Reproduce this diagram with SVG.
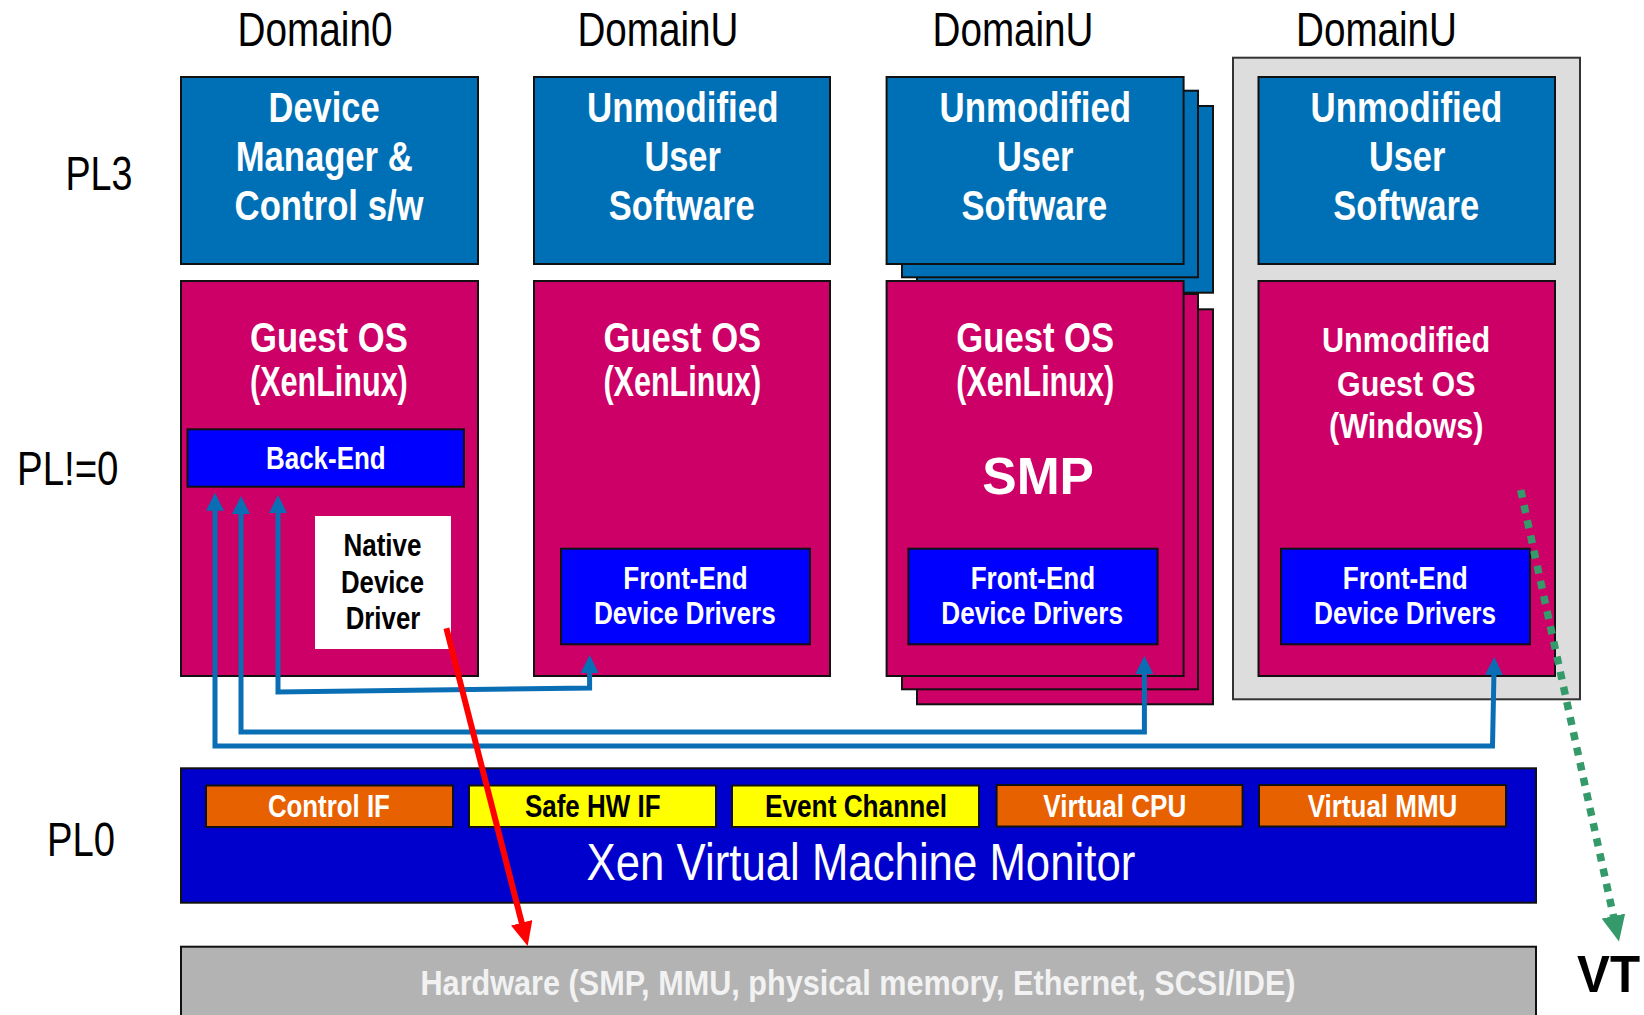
<svg xmlns="http://www.w3.org/2000/svg" width="1644" height="1015" viewBox="0 0 1644 1015">
<style>
text { font-family: "Liberation Sans", Arial, sans-serif; }
.lbl { font-size: 48px; fill: #000; }
.vt { font-size: 51px; font-weight: bold; fill: #000; }
.t42 { font-size: 42px; font-weight: bold; fill: #fff; }
.t35 { font-size: 35px; font-weight: bold; fill: #fff; }
.t32 { font-size: 32px; font-weight: bold; fill: #fff; }
.t32k { font-size: 32px; font-weight: bold; fill: #000; }
.t31 { font-size: 31px; font-weight: bold; fill: #fff; }
.t31k { font-size: 31px; font-weight: bold; fill: #000; }
.smp { font-size: 52px; font-weight: bold; fill: #fff; }
.xen { font-size: 52px; fill: #fff; }
.hw { font-size: 35px; font-weight: bold; fill: #f2f2f2; }
.bx { stroke: #111; stroke-width: 2; }
.app { fill: #0070B6; }
.os { fill: #CC0066; }
.fe { fill: #0000FF; }
.org { fill: #E86100; }
.yel { fill: #FFFF00; }
.bl { fill: none; stroke: #0A6EB4; stroke-width: 5; }
</style>
<defs>
<marker id="ab" markerUnits="userSpaceOnUse" markerWidth="18" markerHeight="18" viewBox="0 0 18 18" refX="4" refY="9" orient="auto-start-reverse">
<path d="M0,0 L18,9 L0,18 z" fill="#0A6EB4"/>
</marker>
<marker id="ar" markerUnits="userSpaceOnUse" markerWidth="24" markerHeight="22" viewBox="0 0 24 22" refX="4" refY="11" orient="auto">
<path d="M0,0 L24,11 L0,22 z" fill="#FF0000"/>
</marker>
<marker id="ag" markerUnits="userSpaceOnUse" markerWidth="26" markerHeight="24" viewBox="0 0 26 24" refX="4" refY="12" orient="auto">
<path d="M0,0 L26,12 L0,24 z" fill="#359A6A"/>
</marker>
</defs>

<g id="labels">
<text class="lbl" x="237.5" y="46" textLength="155" lengthAdjust="spacingAndGlyphs">Domain0</text>
<text class="lbl" x="577.4" y="46" textLength="161" lengthAdjust="spacingAndGlyphs">DomainU</text>
<text class="lbl" x="932.5" y="46" textLength="161" lengthAdjust="spacingAndGlyphs">DomainU</text>
<text class="lbl" x="1296" y="46" textLength="161" lengthAdjust="spacingAndGlyphs">DomainU</text>
<text class="lbl" x="65.4" y="190" textLength="67" lengthAdjust="spacingAndGlyphs">PL3</text>
<text class="lbl" x="17" y="485" textLength="101.5" lengthAdjust="spacingAndGlyphs">PL!=0</text>
<text class="lbl" x="47" y="856" textLength="68" lengthAdjust="spacingAndGlyphs">PL0</text>
<text class="vt" x="1577" y="992" textLength="63" lengthAdjust="spacingAndGlyphs">VT</text>
</g>

<g id="domu4-container">
<rect x="1233" y="57.7" width="347" height="641.6" fill="#DDDDDD" stroke="#333" stroke-width="2"/>
</g>

<g id="dom0-app">
<rect class="bx app" x="181" y="77" width="297" height="187"/>
<text class="t42" x="268.6" y="122" textLength="111" lengthAdjust="spacingAndGlyphs">Device</text>
<text class="t42" x="235.7" y="171" textLength="177" lengthAdjust="spacingAndGlyphs">Manager &amp;</text>
<text class="t42" x="234.6" y="220" textLength="189" lengthAdjust="spacingAndGlyphs">Control s/w</text>
</g>

<g id="domu1-app">
<rect class="bx app" x="534" y="77" width="296" height="187"/>
<text class="t42" x="587" y="122" textLength="191.4" lengthAdjust="spacingAndGlyphs">Unmodified</text>
<text class="t42" x="644.4" y="171" textLength="76.5" lengthAdjust="spacingAndGlyphs">User</text>
<text class="t42" x="608.8" y="220" textLength="145.8" lengthAdjust="spacingAndGlyphs">Software</text>
</g>

<g id="domu2-app">
<rect class="bx app" x="917" y="106" width="296" height="186.7"/>
<rect class="bx app" x="902" y="90.7" width="296" height="186.6"/>
<rect class="bx app" x="886.6" y="77" width="297" height="187"/>
<text class="t42" x="939.6" y="122" textLength="191.4" lengthAdjust="spacingAndGlyphs">Unmodified</text>
<text class="t42" x="997" y="171" textLength="76.5" lengthAdjust="spacingAndGlyphs">User</text>
<text class="t42" x="961.4" y="220" textLength="145.8" lengthAdjust="spacingAndGlyphs">Software</text>
</g>

<g id="domu3-app">
<rect class="bx app" x="1258.5" y="77" width="296.5" height="187"/>
<text class="t42" x="1310.6" y="122" textLength="191.8" lengthAdjust="spacingAndGlyphs">Unmodified</text>
<text class="t42" x="1368.9" y="171" textLength="76.5" lengthAdjust="spacingAndGlyphs">User</text>
<text class="t42" x="1333.3" y="220" textLength="145.8" lengthAdjust="spacingAndGlyphs">Software</text>
</g>

<g id="dom0-os">
<rect class="bx os" x="181" y="281" width="297" height="395"/>
<text class="t42" x="250" y="351.7" textLength="157.8" lengthAdjust="spacingAndGlyphs">Guest OS</text>
<text class="t42" x="250" y="396" textLength="157.8" lengthAdjust="spacingAndGlyphs">(XenLinux)</text>
</g>

<g id="dom0-backend">
<rect class="bx fe" x="187.5" y="429.3" width="276.5" height="57.4"/>
<text class="t32" x="266" y="469" textLength="119.6" lengthAdjust="spacingAndGlyphs">Back-End</text>
</g>

<g id="dom0-native">
<rect x="315" y="516" width="136" height="133" fill="#FFFFFF"/>
<text class="t32k" x="343.5" y="556" textLength="78" lengthAdjust="spacingAndGlyphs">Native</text>
<text class="t32k" x="341" y="592.7" textLength="83" lengthAdjust="spacingAndGlyphs">Device</text>
<text class="t32k" x="345.7" y="629" textLength="74.6" lengthAdjust="spacingAndGlyphs">Driver</text>
</g>

<g id="domu1-os">
<rect class="bx os" x="534" y="281" width="296" height="395"/>
<text class="t42" x="603.4" y="351.7" textLength="157.8" lengthAdjust="spacingAndGlyphs">Guest OS</text>
<text class="t42" x="603.4" y="396" textLength="157.8" lengthAdjust="spacingAndGlyphs">(XenLinux)</text>
</g>

<g id="domu1-frontend">
<rect class="bx fe" x="561" y="548.7" width="249" height="95.6"/>
<text class="t31" x="623.3" y="589" textLength="124.4" lengthAdjust="spacingAndGlyphs">Front-End</text>
<text class="t31" x="593.9" y="624.3" textLength="181.8" lengthAdjust="spacingAndGlyphs">Device Drivers</text>
</g>

<g id="domu2-os">
<rect class="bx os" x="917" y="309.3" width="296" height="395"/>
<rect class="bx os" x="902" y="294" width="296" height="395.3"/>
<rect class="bx os" x="886.6" y="281" width="297" height="395"/>
<text class="t42" x="956.3" y="351.7" textLength="157.8" lengthAdjust="spacingAndGlyphs">Guest OS</text>
<text class="t42" x="956.3" y="396" textLength="157.8" lengthAdjust="spacingAndGlyphs">(XenLinux)</text>
<text class="smp" x="982.3" y="494" textLength="111.7" lengthAdjust="spacingAndGlyphs">SMP</text>
</g>

<g id="domu2-frontend">
<rect class="bx fe" x="908.4" y="548.7" width="249.2" height="95.6"/>
<text class="t31" x="970.7" y="589" textLength="124.4" lengthAdjust="spacingAndGlyphs">Front-End</text>
<text class="t31" x="941.3" y="624.3" textLength="181.8" lengthAdjust="spacingAndGlyphs">Device Drivers</text>
</g>

<g id="domu3-os">
<rect class="bx os" x="1258.5" y="281" width="296.5" height="395"/>
<text class="t35" x="1322" y="351.7" textLength="168.3" lengthAdjust="spacingAndGlyphs">Unmodified</text>
<text class="t35" x="1337" y="396" textLength="138.4" lengthAdjust="spacingAndGlyphs">Guest OS</text>
<text class="t35" x="1329" y="438.3" textLength="154.4" lengthAdjust="spacingAndGlyphs">(Windows)</text>
</g>

<g id="domu3-frontend">
<rect class="bx fe" x="1281" y="548.7" width="249" height="95.6"/>
<text class="t31" x="1342.8" y="589" textLength="124.9" lengthAdjust="spacingAndGlyphs">Front-End</text>
<text class="t31" x="1314" y="624.3" textLength="182" lengthAdjust="spacingAndGlyphs">Device Drivers</text>
</g>

<g id="xen-vmm">
<rect class="bx" x="181" y="768.3" width="1355" height="134.4" fill="#0000CC"/>
<text class="xen" x="586.6" y="880" textLength="548.7" lengthAdjust="spacingAndGlyphs">Xen Virtual Machine Monitor</text>
</g>

<g id="control-if">
<rect class="bx org" x="206" y="785.5" width="247" height="41.5"/>
<text class="t31" x="267.9" y="817" textLength="122" lengthAdjust="spacingAndGlyphs">Control IF</text>
</g>
<g id="safe-hw-if">
<rect class="bx yel" x="469" y="785.5" width="247" height="41.5"/>
<text class="t31k" x="525" y="817" textLength="135.5" lengthAdjust="spacingAndGlyphs">Safe HW IF</text>
</g>
<g id="event-channel">
<rect class="bx yel" x="732" y="785.5" width="247" height="41.5"/>
<text class="t31k" x="765" y="817" textLength="182" lengthAdjust="spacingAndGlyphs">Event Channel</text>
</g>
<g id="virtual-cpu">
<rect class="bx org" x="996.6" y="785" width="246" height="41.5"/>
<text class="t31" x="1043.3" y="816.5" textLength="143" lengthAdjust="spacingAndGlyphs">Virtual CPU</text>
</g>
<g id="virtual-mmu">
<rect class="bx org" x="1259" y="785" width="247" height="41.5"/>
<text class="t31" x="1307.7" y="816.5" textLength="149.7" lengthAdjust="spacingAndGlyphs">Virtual MMU</text>
</g>

<g id="hardware">
<rect class="bx" x="181" y="946.7" width="1355" height="80" fill="#B3B3B3"/>
<text class="hw" x="420.5" y="995" textLength="875" lengthAdjust="spacingAndGlyphs">Hardware (SMP, MMU, physical memory, Ethernet, SCSI/IDE)</text>
</g>

<g id="connectors">
<path class="bl" d="M215,506.7 L215,746 L1492.5,746 L1494,671" marker-start="url(#ab)" marker-end="url(#ab)"/>
<path class="bl" d="M241,510 L241,732 L1144.4,732 L1144.4,670" marker-start="url(#ab)" marker-end="url(#ab)"/>
<path class="bl" d="M278,509 L278,692 L589.6,688 L589.6,669" marker-start="url(#ab)" marker-end="url(#ab)"/>
<line x1="446.4" y1="628.3" x2="522.7" y2="926.6" stroke="#FF0000" stroke-width="6" marker-end="url(#ar)"/>
<line x1="1520.7" y1="490" x2="1614.3" y2="920" stroke="#359A6A" stroke-width="7.5" stroke-dasharray="8 7.5" marker-end="url(#ag)"/>
</g>
</svg>
